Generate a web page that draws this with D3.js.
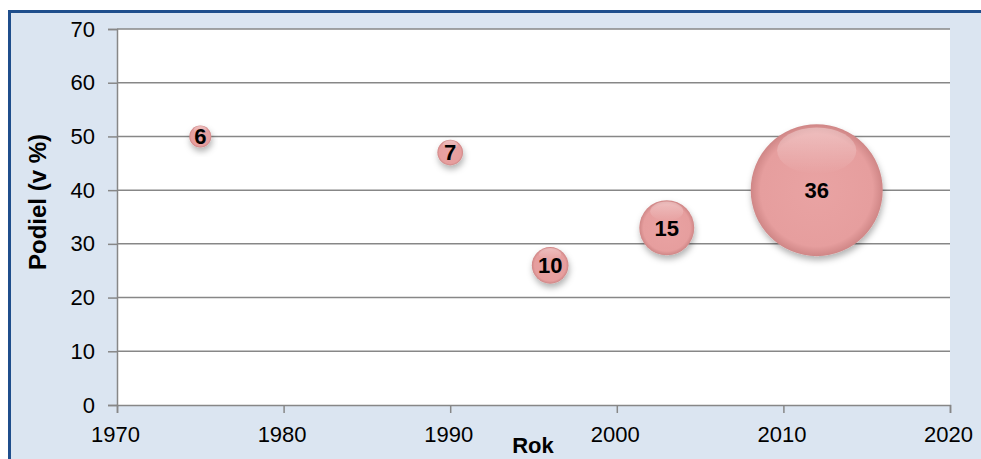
<!DOCTYPE html>
<html><head><meta charset="utf-8">
<script src="https://cdn.jsdelivr.net/npm/d3@7"></script>
<style>body{margin:0;background:#fff;}svg{display:block;}</style>
</head><body>
<svg id="c" width="981" height="459"></svg>
<script>
const years = [1975, 1990, 1996, 2003, 2012];
const shares = [50, 47, 26, 33, 40];
const sizes = [6, 7, 10, 15, 36];
const xTicks = [1970, 1980, 1990, 2000, 2010, 2020];
const yTicks = [0, 10, 20, 30, 40, 50, 60, 70];

const svg = d3.select('#c');
const font = 'Arial, "Liberation Sans", sans-serif';
const L = 117, R = 950, T = 29, B = 405;

// frame
svg.append('rect').attr('x', 9.5).attr('y', 11.5).attr('width', 990).attr('height', 470)
  .attr('fill', '#dbe5f1').attr('stroke', '#1f4e8c').attr('stroke-width', 3);
svg.append('rect').attr('x', L).attr('y', T).attr('width', R - L).attr('height', B - T).attr('fill', '#fff');

const x = d3.scaleLinear().domain([1970, 2020]).range([L, R]);
const y = d3.scaleLinear().domain([0, 70]).range([B, T]);
const r = d3.scaleLinear().domain([0, 36]).range([0, 66]);

// gridlines
svg.append('g').selectAll('line').data(yTicks.filter(d => d > 0)).join('line')
  .attr('x1', L).attr('x2', R).attr('y1', d => y(d)).attr('y2', d => y(d))
  .attr('stroke', '#878787').attr('stroke-width', 1.5);

const yAxis = svg.append('g').attr('transform', `translate(${L},0)`)
  .call(d3.axisLeft(y).tickValues(yTicks).tickSize(9).tickPadding(13));
const xAxis = svg.append('g').attr('transform', `translate(0,${B})`)
  .call(d3.axisBottom(x).tickValues(xTicks).tickFormat(d3.format('d')).tickSize(8).tickPadding(13));
[yAxis, xAxis].forEach(a => {
  a.select('.domain').attr('stroke', '#878787').attr('stroke-width', 1.5);
  a.selectAll('.tick line').attr('stroke', '#878787').attr('stroke-width', 1.5);
  a.selectAll('.tick text').attr('fill', '#000').style('font-family', font).style('font-size', '22px');
});
xAxis.selectAll('.tick text').attr('dx', -2);

// defs
const defs = svg.append('defs');
const g = defs.append('radialGradient').attr('id', 'bg').attr('cx', '50%').attr('cy', '50%').attr('r', '50%');
g.append('stop').attr('offset', '0%').attr('stop-color', '#e9a3a3');
g.append('stop').attr('offset', '85%').attr('stop-color', '#e69e9e');
g.append('stop').attr('offset', '100%').attr('stop-color', '#cf8686');
const hl = defs.append('linearGradient').attr('id', 'hl').attr('x1', 0).attr('y1', 0).attr('x2', 0).attr('y2', 1);
hl.append('stop').attr('offset', '0%').attr('stop-color', '#fff').attr('stop-opacity', 0.35);
hl.append('stop').attr('offset', '100%').attr('stop-color', '#fff').attr('stop-opacity', 0);
const f = defs.append('filter').attr('id', 'sh').attr('x', '-30%').attr('y', '-30%').attr('width', '160%').attr('height', '170%');
f.append('feDropShadow').attr('dx', 1).attr('dy', 4).attr('stdDeviation', 3).attr('flood-color', '#000').attr('flood-opacity', 0.3);

const data = years.map((yr, i) => ({yr, s: shares[i], z: sizes[i]}));
const bub = svg.append('g').selectAll('g').data(data).join('g')
  .attr('transform', d => `translate(${x(d.yr)},${y(d.s)})`);
bub.append('circle').attr('r', d => r(d.z)).attr('fill', 'url(#bg)').attr('filter', 'url(#sh)');
bub.append('ellipse').attr('cy', d => -r(d.z) * 0.6).attr('rx', d => r(d.z) * 0.6).attr('ry', d => r(d.z) * 0.35)
  .attr('fill', 'url(#hl)');
bub.append('text').attr('text-anchor', 'middle').attr('dy', '0.36em')
  .style('font-family', font).style('font-weight', 'bold').style('font-size', '22px').attr('fill', '#000')
  .text(d => d.z);

svg.append('text').attr('transform', `translate(46,202) rotate(-90)`).attr('text-anchor', 'middle')
  .style('font-family', font).style('font-weight', 'bold').style('font-size', '24px').text('Podiel (v %)');
svg.append('text').attr('x', 533).attr('y', 453).attr('text-anchor', 'middle')
  .style('font-family', font).style('font-weight', 'bold').style('font-size', '22px').text('Rok');
</script>
</body></html>
